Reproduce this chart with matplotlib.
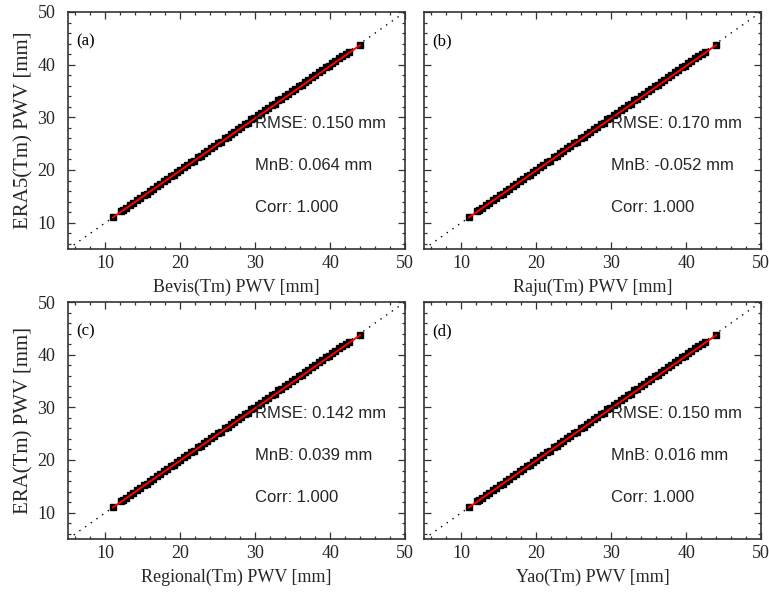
import matplotlib.pyplot as plt
from matplotlib.ticker import MultipleLocator

# PWV pairs (same band in all four panels)
x_pwv = [11.0, 12.1, 12.4, 12.8, 13.3, 13.7, 14.2, 14.6, 15.1, 15.5, 16.0, 16.4,
         16.9, 17.3, 17.8, 18.2, 18.7, 19.1, 19.6, 20.0, 20.5, 20.9, 21.4, 21.8,
         22.3, 22.7, 23.2, 23.6, 24.1, 24.5, 25.0, 25.4, 25.9, 26.3, 26.8, 27.2,
         27.7, 28.1, 28.6, 29.0, 29.5, 29.9, 30.4, 30.8, 31.3, 31.7, 32.2, 32.6,
         33.1, 33.5, 34.0, 34.4, 34.9, 35.3, 35.8, 36.2, 36.7, 37.1, 37.6, 38.0,
         38.5, 38.9, 39.4, 39.8, 40.3, 40.7, 41.2, 41.6, 42.1, 42.5, 44.0]
y_pwv = [11.0, 12.2, 12.5, 12.8, 13.4, 13.7, 14.3, 14.6, 15.2, 15.5, 16.1, 16.4,
         17.0, 17.3, 17.9, 18.2, 18.8, 19.1, 19.7, 20.0, 20.6, 20.9, 21.5, 21.8,
         22.4, 22.7, 23.3, 23.6, 24.2, 24.5, 25.1, 25.4, 26.0, 26.3, 26.9, 27.2,
         27.8, 28.1, 28.7, 29.0, 29.6, 29.9, 30.5, 30.8, 31.4, 31.7, 32.3, 32.6,
         33.2, 33.5, 34.1, 34.4, 35.0, 35.3, 35.9, 36.2, 36.8, 37.1, 37.7, 38.0,
         38.6, 38.9, 39.5, 39.8, 40.4, 40.7, 41.3, 41.6, 42.1, 42.4, 43.7]

fit_x = [11.0, 44.0]
fit_y = [11.0, 43.7]

panels = ['(a)', '(b)', '(c)', '(d)']
xlabels = ['Bevis(Tm) PWV [mm]', 'Raju(Tm) PWV [mm]',
           'Regional(Tm) PWV [mm]', 'Yao(Tm) PWV [mm]']
ylabels = ['ERA5(Tm) PWV [mm]', None, 'ERA(Tm) PWV [mm]', None]
rmse = ['0.150', '0.170', '0.142', '0.150']
mnb = ['0.064', '-0.052', '0.039', '0.016']
corr = ['1.000', '1.000', '1.000', '1.000']

serif = 'Liberation Serif'
sans = 'Liberation Sans'
tc = '#262626'

fig = plt.figure(figsize=(7.69, 5.93), dpi=100)
W, H = 769, 593
boxes = [(68, 12), (424, 12), (68, 302), (424, 302)]
aw, ah = 337, 237

for i in range(4):
    x0, y0 = boxes[i]
    ax = fig.add_axes([x0 / W, 1 - (y0 + ah) / H, aw / W, ah / H])
    ax.plot([5, 50], [5, 50], color='k', ls=(0, (1, 4)), lw=1)
    ax.plot(x_pwv, y_pwv, ls='none', marker='s', ms=3.8, mfc='k',
            mec='k', mew=1.0)
    ax.plot(fit_x, fit_y, color='red', lw=1.4)
    ax.set_xlim(5, 50)
    ax.set_ylim(5, 50)
    ax.xaxis.set_major_locator(MultipleLocator(10))
    ax.yaxis.set_major_locator(MultipleLocator(10))
    ax.xaxis.set_minor_locator(MultipleLocator(2))
    ax.yaxis.set_minor_locator(MultipleLocator(2))
    ax.tick_params(which='both', direction='in', top=True, right=True,
                   color='#333333', labelcolor=tc, labelsize=13, width=0.9)
    ax.tick_params(which='major', length=5)
    ax.tick_params(which='minor', length=2.5)
    ax.tick_params(axis='y', pad=9)
    ax.tick_params(axis='x', pad=4)
    for lab in ax.get_xticklabels() + ax.get_yticklabels():
        lab.set_fontfamily(serif)
    if ylabels[i] is None:
        ax.set_yticklabels([])
    else:
        ax.set_ylabel(ylabels[i], family=serif, fontsize=15, color=tc, labelpad=3)
    ax.set_xlabel(xlabels[i], family=serif, fontsize=13, color=tc, labelpad=5)
    for s in ax.spines.values():
        s.set_linewidth(1.2)
        s.set_color('#333333')
    ax.text(6.1, 44.5, panels[i], family=serif, fontsize=12, color='k', va='center')
    ax.text(30.0, 28.8, 'RMSE: ' + rmse[i] + ' mm', family=sans, fontsize=12,
            color=tc, va='center')
    ax.text(30.0, 20.8, 'MnB: ' + mnb[i] + ' mm', family=sans, fontsize=12,
            color=tc, va='center')
    ax.text(30.0, 12.8, 'Corr: ' + corr[i], family=sans, fontsize=12,
            color=tc, va='center')

fig.savefig('out.png', dpi=100)
